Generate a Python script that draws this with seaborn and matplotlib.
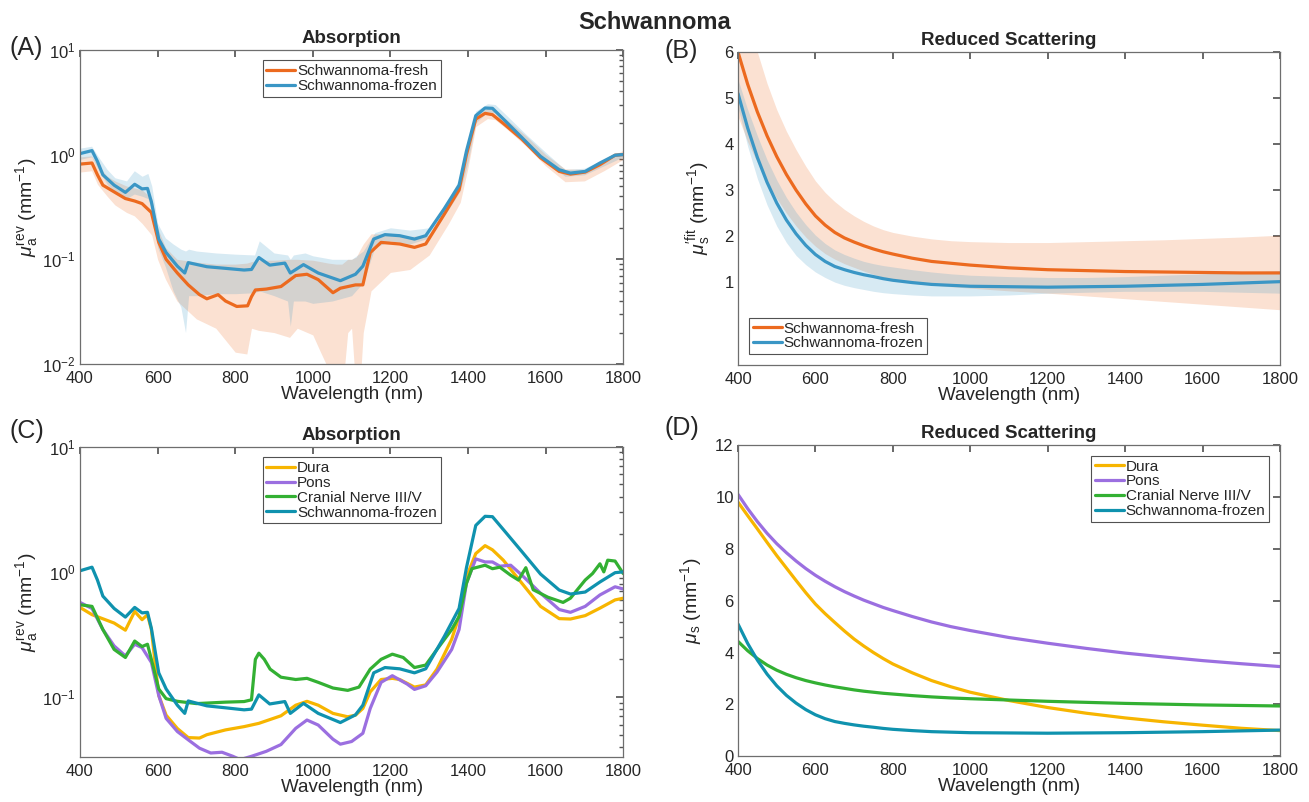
import numpy as np
import seaborn as sns
import matplotlib.pyplot as plt

# ---- panel A/C : absorption (mm^-1) ----
wl_frozen = [400, 431, 445, 459, 488, 517, 541, 560, 574, 584, 603, 622, 651, 670, 679, 727, 775, 823, 842, 861,
             889, 928, 942, 976, 1014, 1071, 1110, 1129, 1157, 1186, 1224, 1262, 1291, 1339, 1377, 1396, 1420, 1444,
             1463, 1491, 1539, 1587, 1635, 1664, 1702, 1740, 1779, 1800]
mua_frozen = [1.02, 1.09, 0.86, 0.64, 0.51, 0.435, 0.52, 0.47, 0.475, 0.354, 0.156, 0.116, 0.086, 0.074, 0.093,
              0.085, 0.082, 0.079, 0.080, 0.104, 0.088, 0.092, 0.074, 0.089, 0.074, 0.0625, 0.072, 0.086, 0.156,
              0.172, 0.168, 0.156, 0.168, 0.305, 0.51, 1.08, 2.35, 2.78, 2.76, 2.18, 1.45, 0.96, 0.716, 0.665, 0.69,
              0.83, 0.985, 1.0]

wl_fresh = [400, 431, 445, 459, 488, 517, 541, 560, 584, 603, 622, 651, 679, 708, 727, 756, 775, 804, 832, 842,
            852, 880, 918, 956, 985, 1014, 1052, 1071, 1110, 1129, 1148, 1176, 1224, 1262, 1291, 1339, 1377, 1396,
            1420, 1444, 1463, 1491, 1539, 1587, 1635, 1664, 1702, 1740, 1779, 1800]
mua_fresh = [0.81, 0.83, 0.64, 0.51, 0.44, 0.38, 0.36, 0.34, 0.28, 0.145, 0.10, 0.074, 0.057, 0.046, 0.042, 0.046,
             0.040, 0.0355, 0.036, 0.044, 0.051, 0.052, 0.055, 0.070, 0.072, 0.064, 0.048, 0.053, 0.057, 0.057,
             0.116, 0.145, 0.14, 0.13, 0.14, 0.27, 0.46, 1.0, 2.18, 2.47, 2.4, 1.98, 1.4, 0.93, 0.69, 0.65, 0.68,
             0.8, 0.985, 1.0]

# spread bands
wl_frozen_band = [400, 430, 445, 470, 490, 520, 540, 560, 575, 585, 600, 620, 640, 660, 672, 680, 700, 750, 800,
                  850, 862, 900, 935, 942, 950, 980, 1000, 1050, 1100, 1130, 1160, 1200, 1250, 1300, 1350, 1380,
                  1400, 1420, 1450, 1470, 1500, 1550, 1600, 1650, 1700, 1750, 1800]
frozen_lo = [0.9, 0.95, 0.75, 0.52, 0.44, 0.38, 0.42, 0.4, 0.38, 0.3, 0.13, 0.085, 0.05, 0.035, 0.02, 0.045,
             0.045, 0.047, 0.047, 0.048, 0.05, 0.045, 0.04, 0.023, 0.04, 0.04, 0.038, 0.04, 0.045, 0.06, 0.13,
             0.15, 0.14, 0.16, 0.3, 0.45, 0.85, 2.0, 2.55, 2.5, 1.95, 1.3, 0.85, 0.62, 0.64, 0.78, 0.95]
frozen_hi = [1.15, 1.2, 0.98, 0.72, 0.6, 0.56, 0.7, 0.62, 0.66, 0.5, 0.22, 0.16, 0.14, 0.125, 0.12, 0.125, 0.12,
             0.115, 0.112, 0.11, 0.15, 0.115, 0.11, 0.1, 0.11, 0.115, 0.108, 0.1, 0.1, 0.12, 0.18, 0.2, 0.19, 0.2,
             0.38, 0.6, 1.25, 2.6, 3.05, 3.0, 2.35, 1.55, 1.05, 0.72, 0.74, 0.9, 1.06]

wl_fresh_band = [400, 430, 445, 470, 490, 520, 540, 560, 585, 600, 620, 650, 700, 750, 800, 830, 842, 860, 900,
                 940, 960, 1000, 1020, 1040, 1060, 1075, 1090, 1100, 1112, 1120, 1130, 1150, 1200, 1250, 1300,
                 1350, 1380, 1400, 1420, 1450, 1470, 1500, 1550, 1600, 1650, 1700, 1750, 1800]
fresh_lo = [0.68, 0.7, 0.52, 0.4, 0.33, 0.28, 0.26, 0.22, 0.17, 0.1, 0.065, 0.04, 0.027, 0.022, 0.013, 0.0125,
            0.022, 0.021, 0.02, 0.018, 0.022, 0.019, 0.013, 0.009, 0.005, 0.005, 0.02, 0.022, 0.005, 0.005, 0.02,
            0.05, 0.075, 0.08, 0.11, 0.22, 0.35, 0.75, 1.85, 2.2, 2.15, 1.75, 1.2, 0.78, 0.55, 0.56, 0.7, 0.9]
fresh_hi = [0.95, 0.97, 0.8, 0.62, 0.56, 0.5, 0.48, 0.46, 0.38, 0.2, 0.13, 0.1, 0.094, 0.09, 0.09, 0.092, 0.095,
            0.098, 0.098, 0.1, 0.1, 0.098, 0.095, 0.092, 0.09, 0.09, 0.1, 0.1, 0.105, 0.12, 0.14, 0.175, 0.175,
            0.165, 0.17, 0.36, 0.55, 1.15, 2.4, 2.75, 2.65, 2.15, 1.5, 1.0, 0.73, 0.72, 0.88, 1.1]

wl_dura = [400, 431, 488, 517, 541, 560, 574, 584, 603, 622, 651, 679, 708, 727, 775, 823, 861, 918, 956, 985,
           1014, 1052, 1090, 1110, 1129, 1148, 1176, 1205, 1224, 1262, 1291, 1320, 1358, 1377, 1396, 1420, 1444,
           1463, 1491, 1539, 1587, 1635, 1664, 1702, 1740, 1779, 1800]
mua_dura = [0.52, 0.455, 0.39, 0.342, 0.483, 0.415, 0.455, 0.346, 0.103, 0.0716, 0.056, 0.0474, 0.047, 0.050,
            0.0546, 0.058, 0.0616, 0.0708, 0.086, 0.0924, 0.086, 0.074, 0.0695, 0.0716, 0.081, 0.11, 0.138, 0.141,
            0.138, 0.12, 0.125, 0.167, 0.29, 0.44, 0.91, 1.40, 1.62, 1.5, 1.24, 0.81, 0.53, 0.423, 0.42, 0.447,
            0.513, 0.597, 0.616]

wl_pons = [400, 431, 459, 488, 517, 541, 560, 584, 603, 622, 651, 679, 708, 737, 766, 794, 813, 842, 880, 918,
           956, 985, 1014, 1052, 1071, 1100, 1129, 1148, 1176, 1205, 1243, 1262, 1291, 1320, 1358, 1377, 1396,
           1420, 1444, 1463, 1482, 1510, 1539, 1587, 1635, 1664, 1702, 1740, 1779, 1800]
mua_pons = [0.57, 0.51, 0.346, 0.256, 0.213, 0.264, 0.248, 0.189, 0.103, 0.0675, 0.053, 0.0455, 0.039, 0.0357,
            0.0362, 0.0336, 0.0316, 0.0336, 0.0368, 0.0417, 0.0562, 0.0655, 0.0597, 0.046, 0.042, 0.0441, 0.0513,
            0.081, 0.131, 0.148, 0.127, 0.115, 0.123, 0.158, 0.24, 0.346, 0.81, 1.27, 1.2, 1.2, 1.11, 1.13, 0.94,
            0.675, 0.5, 0.475, 0.53, 0.654, 0.76, 0.73]

wl_cn = [400, 431, 459, 488, 517, 541, 560, 574, 584, 603, 622, 651, 700, 775, 823, 842, 852, 861, 875, 890,
         918, 956, 985, 1014, 1052, 1090, 1119, 1148, 1176, 1205, 1233, 1262, 1291, 1320, 1358, 1377, 1396, 1410,
         1444, 1463, 1482, 1510, 1530, 1549, 1568, 1606, 1645, 1664, 1702, 1721, 1740, 1750, 1760, 1779, 1800]
mua_cn = [0.546, 0.53, 0.346, 0.24, 0.207, 0.28, 0.253, 0.264, 0.2, 0.116, 0.097, 0.0924, 0.0886, 0.091, 0.092,
          0.095, 0.2, 0.224, 0.2, 0.167, 0.144, 0.138, 0.141, 0.131, 0.118, 0.113, 0.12, 0.167, 0.2, 0.22, 0.207,
          0.172, 0.18, 0.24, 0.346, 0.44, 0.81, 1.06, 1.13, 1.06, 1.09, 0.94, 0.86, 1.08, 0.72, 0.627, 0.57,
          0.616, 0.86, 0.97, 1.16, 1.0, 1.24, 1.22, 0.97]

# ---- panel B/D : reduced scattering (mm^-1) ----
wl_sc = [400, 425, 450, 475, 500, 525, 550, 575, 600, 625, 650, 675, 700, 725, 750, 775, 800, 850, 900, 950,
         1000, 1100, 1200, 1300, 1400, 1500, 1600, 1700, 1800]
mus_fresh = [6.0, 5.3, 4.7, 4.18, 3.73, 3.34, 3.0, 2.7, 2.44, 2.24, 2.08, 1.96, 1.87, 1.79, 1.72, 1.66, 1.61,
             1.52, 1.45, 1.41, 1.37, 1.31, 1.27, 1.25, 1.23, 1.22, 1.21, 1.2, 1.2]
mus_frozen = [5.1, 4.35, 3.71, 3.17, 2.72, 2.35, 2.05, 1.8, 1.6, 1.45, 1.34, 1.27, 1.21, 1.16, 1.12, 1.075, 1.04,
              0.99, 0.95, 0.93, 0.91, 0.9, 0.89, 0.9, 0.91, 0.93, 0.95, 0.98, 1.01]
mus_fresh_lo = [4.6, 4.05, 3.6, 3.18, 2.82, 2.5, 2.22, 1.98, 1.78, 1.62, 1.5, 1.4, 1.32, 1.24, 1.17, 1.11, 1.06,
                0.99, 0.94, 0.9, 0.87, 0.81, 0.76, 0.7, 0.64, 0.58, 0.52, 0.46, 0.4]
mus_fresh_hi = [7.8, 6.8, 6.0, 5.32, 4.75, 4.28, 3.88, 3.52, 3.2, 2.95, 2.75, 2.58, 2.44, 2.32, 2.22, 2.14, 2.08,
                2.0, 1.94, 1.9, 1.88, 1.86, 1.86, 1.88, 1.9, 1.92, 1.95, 1.98, 2.02]
mus_frozen_lo = [4.8, 3.95, 3.25, 2.68, 2.22, 1.86, 1.58, 1.38, 1.22, 1.1, 1.0, 0.93, 0.88, 0.84, 0.8, 0.77,
                 0.75, 0.72, 0.7, 0.7, 0.7, 0.72, 0.76, 0.78, 0.8, 0.8, 0.8, 0.78, 0.76]
mus_frozen_hi = [5.4, 4.75, 4.18, 3.66, 3.22, 2.84, 2.52, 2.25, 2.02, 1.84, 1.7, 1.6, 1.52, 1.45, 1.4, 1.36,
                 1.33, 1.27, 1.22, 1.18, 1.15, 1.12, 1.1, 1.1, 1.12, 1.15, 1.18, 1.21, 1.25]
mus_dura = [9.8, 9.28, 8.77, 8.25, 7.74, 7.26, 6.78, 6.31, 5.87, 5.5, 5.16, 4.83, 4.52, 4.25, 4.0, 3.77, 3.56,
            3.22, 2.92, 2.68, 2.47, 2.15, 1.88, 1.66, 1.48, 1.33, 1.2, 1.08, 0.99]
mus_pons = [10.1, 9.55, 9.05, 8.6, 8.2, 7.85, 7.53, 7.24, 6.98, 6.75, 6.54, 6.35, 6.18, 6.02, 5.88, 5.74, 5.62,
            5.39, 5.18, 5.0, 4.85, 4.58, 4.36, 4.16, 3.98, 3.83, 3.69, 3.57, 3.46]
mus_cn = [4.43, 4.07, 3.77, 3.52, 3.32, 3.16, 3.03, 2.92, 2.83, 2.75, 2.68, 2.62, 2.56, 2.51, 2.47, 2.43, 2.4,
          2.34, 2.29, 2.25, 2.22, 2.17, 2.12, 2.08, 2.04, 2.01, 1.98, 1.96, 1.94]

c_fresh = "#ec6a1f"
c_frozen = "#3a96c5"
c_dura = "#f7b500"
c_pons = "#9b6fe0"
c_cn = "#33b033"
c_frozen2 = "#0f92ae"

sns.set_theme(style="white")
plt.rcParams["font.family"] = ["Liberation Sans", "DejaVu Sans"]
plt.rcParams["mathtext.fontset"] = "custom"
plt.rcParams["mathtext.rm"] = "Liberation Sans"
plt.rcParams["mathtext.it"] = "Liberation Sans:italic"
plt.rcParams["mathtext.bf"] = "Liberation Sans:bold"

fig = plt.figure(figsize=(13.09, 8.02), dpi=100)
axA = fig.add_axes([0.0611, 0.546, 0.415, 0.392])
axB = fig.add_axes([0.5638, 0.545, 0.414, 0.390])
axC = fig.add_axes([0.0611, 0.056, 0.415, 0.387])
axD = fig.add_axes([0.5638, 0.057, 0.414, 0.388])

lw = 2.3


def style(ax, title):
    ax.set_xlim(400, 1800)
    ax.set_xticks(range(400, 1801, 200))
    ax.tick_params(which="both", direction="in", top=True, right=True, labelsize=12,
                   color="#555555", labelcolor="#262626", pad=3)
    ax.tick_params(axis="x", pad=5)
    ax.tick_params(which="major", length=5)
    ax.tick_params(which="minor", length=3)
    for s in ax.spines.values():
        s.set_color("#6e6e6e")
        s.set_linewidth(0.9)
    ax.set_title(title, fontsize=13.5, fontweight="bold", pad=5)
    ax.set_xlabel("Wavelength (nm)", fontsize=13.5, labelpad=0, color="#262626")


def legend(ax, loc, **kw):
    lg = ax.legend(loc=loc, frameon=True, fancybox=False, fontsize=11, handlelength=1.9,
                   handletextpad=0.1, borderpad=0.25, labelspacing=0.05, borderaxespad=0.7, **kw)
    lg.get_frame().set_edgecolor("#262626")
    lg.get_frame().set_linewidth(0.8)
    return lg


ylab_abs = r"$\mu_{\mathrm{a}}^{\mathrm{rev}}$ (mm$^{-1}$)"

# (A)
axA.fill_between(wl_fresh_band, fresh_lo, fresh_hi, color=c_fresh, alpha=0.2, lw=0)
axA.fill_between(wl_frozen_band, frozen_lo, frozen_hi, color=c_frozen, alpha=0.2, lw=0)
sns.lineplot(x=wl_fresh, y=mua_fresh, ax=axA, color=c_fresh, lw=lw, label="Schwannoma-fresh")
sns.lineplot(x=wl_frozen, y=mua_frozen, ax=axA, color=c_frozen, lw=lw, label="Schwannoma-frozen")
axA.set_yscale("log")
axA.set_ylim(0.01, 10)
style(axA, "Absorption")
axA.set_ylabel(ylab_abs, fontsize=14, labelpad=2, color="#262626")
legend(axA, "upper center")

# (B)
axB.fill_between(wl_sc, mus_fresh_lo, mus_fresh_hi, color=c_fresh, alpha=0.2, lw=0)
axB.fill_between(wl_sc, mus_frozen_lo, mus_frozen_hi, color=c_frozen, alpha=0.2, lw=0)
sns.lineplot(x=wl_sc, y=mus_fresh, ax=axB, color=c_fresh, lw=lw, label="Schwannoma-fresh")
sns.lineplot(x=wl_sc, y=mus_frozen, ax=axB, color=c_frozen, lw=lw, label="Schwannoma-frozen")
axB.set_ylim(-0.8, 6)
axB.set_yticks([1, 2, 3, 4, 5, 6])
style(axB, "Reduced Scattering")
axB.set_ylabel(r"$\mu_{\mathrm{s}}^{\prime\mathrm{fit}}$ (mm$^{-1}$)", fontsize=14, labelpad=8, color="#262626")
legend(axB, "lower left")

# (C)
sns.lineplot(x=wl_dura, y=mua_dura, ax=axC, color=c_dura, lw=lw, label="Dura")
sns.lineplot(x=wl_pons, y=mua_pons, ax=axC, color=c_pons, lw=lw, label="Pons")
sns.lineplot(x=wl_cn, y=mua_cn, ax=axC, color=c_cn, lw=lw, label="Cranial Nerve III/V")
sns.lineplot(x=wl_frozen, y=mua_frozen, ax=axC, color=c_frozen2, lw=lw, label="Schwannoma-frozen")
axC.set_yscale("log")
axC.set_ylim(10 ** -1.48, 10)
style(axC, "Absorption")
axC.set_ylabel(ylab_abs, fontsize=14, labelpad=2, color="#262626")
legend(axC, "upper center")

# (D)
sns.lineplot(x=wl_sc, y=mus_dura, ax=axD, color=c_dura, lw=lw, label="Dura")
sns.lineplot(x=wl_sc, y=mus_pons, ax=axD, color=c_pons, lw=lw, label="Pons")
sns.lineplot(x=wl_sc, y=mus_cn, ax=axD, color=c_cn, lw=lw, label="Cranial Nerve III/V")
sns.lineplot(x=wl_sc, y=mus_frozen, ax=axD, color=c_frozen2, lw=lw, label="Schwannoma-frozen")
axD.set_ylim(0, 12)
axD.set_yticks(range(0, 13, 2))
style(axD, "Reduced Scattering")
axD.set_ylabel(r"$\mu_{\mathrm{s}}$ (mm$^{-1}$)", fontsize=14, labelpad=8, color="#262626")
legend(axD, "upper right")

# panel letters and main title
fig.text(0.5, 0.972, "Schwannoma", ha="center", va="center", fontsize=17, fontweight="bold")
for lab, x, y in [("(A)", 0.007, 0.94), ("(B)", 0.508, 0.937), ("(C)", 0.007, 0.463), ("(D)", 0.508, 0.466)]:
    fig.text(x, y, lab, ha="left", va="center", fontsize=18)

fig.savefig("out.png", dpi=100)
